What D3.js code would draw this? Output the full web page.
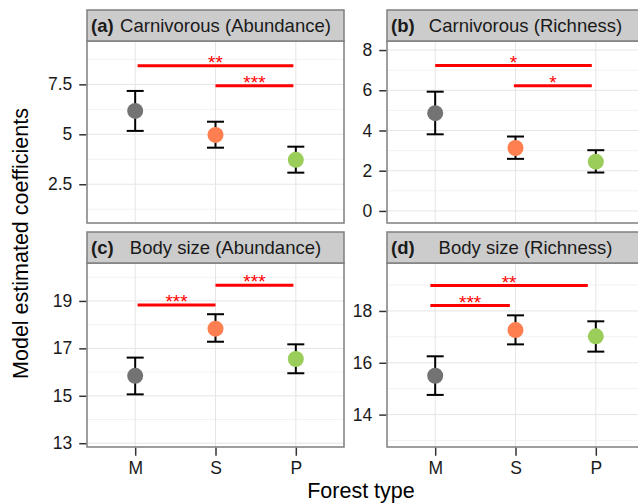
<!DOCTYPE html>
<html lang="en">
  <head>
    <meta charset="utf-8">
    <title>Forest type coefficients</title>
    <style>
      body { margin: 0; background: #fff; }
      svg { display: block; font-family: "Liberation Sans", Arial, Helvetica, sans-serif; }
    </style>
  </head>
  <body>
    <svg id="canvas"></svg>
    <script src="https://cdn.jsdelivr.net/npm/d3@7/dist/d3.min.js"></script>
    <script>

      const width = 638;
      const height = 504;

      // data
      const forestTypes = ["M", "S", "P"];
      const typeColors = ["#737373", "#ff7f50", "#9acd5a"];

      const panelTags = ["(a)", "(b)", "(c)", "(d)"];
      const panelTitles = ["Carnivorous (Abundance)", "Carnivorous (Richness)",
                           "Body size (Abundance)", "Body size (Richness)"];

      const estimates = [[6.17, 4.97, 3.72], [4.86, 3.13, 2.45], [15.84, 17.83, 16.55], [15.50, 17.26, 17.02]];
      const lowerCI   = [[5.17, 4.33, 3.08], [3.81, 2.59, 1.91], [15.06, 17.28, 15.95], [14.76, 16.71, 16.43]];
      const upperCI   = [[7.17, 5.63, 4.38], [5.93, 3.70, 3.02], [16.61, 18.44, 17.17], [16.25, 17.83, 17.60]];

      const yLimits = [[0.56, 9.67], [-0.6, 8.45], [12.84, 20.6], [12.75, 19.85]];
      const yTicks = [[2.5, 5, 7.5], [0, 2, 4, 6, 8], [13, 15, 17, 19], [14, 16, 18]];
      const yTickLabels = [["2.5", "5", "7.5"], ["0", "2", "4", "6", "8"], ["13", "15", "17", "19"], ["14", "16", "18"]];
      const yMinorTicks = [[1.25, 3.75, 6.25, 8.75], [1, 3, 5, 7], [14, 16, 18, 20], [13, 15, 17, 19]];

      // significance bars: [from, to, value, stars]  (from/to in category units, 1 = M)
      const sigBars = [
        [[1.03, 2.97, 8.43, "**"], [2.0, 2.97, 7.43, "***"]],
        [[1.0, 2.95, 7.23, "*"], [1.98, 2.95, 6.22, "*"]],
        [[1.03, 2.0, 18.83, "***"], [2.0, 2.97, 19.66, "***"]],
        [[0.94, 2.9, 18.98, "**"], [0.94, 1.93, 18.21, "***"]]
      ];

      // layout
      const panelLeft = [87, 387];
      const panelWidth = 257;
      const stripTop = [10, 232];
      const stripHeight = 31;
      const plotBottom = [223, 447];
      const border = "#7f7f7f";

      const svg = d3.select("#canvas")
        .attr("width", width)
        .attr("height", height)
        .attr("viewBox", [0, 0, width, height]);

      panelTitles.forEach((title, i) => {
        let col = i % 2;
        let row = Math.floor(i / 2);
        let left = panelLeft[col];
        let right = left + panelWidth;
        let top = stripTop[row] + stripHeight;
        let bottom = plotBottom[row];

        let x = d3.scalePoint()
          .domain(forestTypes)
          .range([left, right])
          .padding(0.6);
        // category units -> pixels, for the bars between categories
        let xu = v => x(forestTypes[0]) + (v - 1) * x.step();

        let y = d3.scaleLinear()
          .domain(yLimits[i])
          .range([bottom, top]);

        let g = svg.append("g");

        // panel background
        g.append("rect")
          .attr("x", left).attr("y", top)
          .attr("width", panelWidth).attr("height", bottom - top)
          .attr("fill", "#fff");

        // minor grid
        g.selectAll(".minor")
          .data(yMinorTicks[i])
          .join("line")
          .attr("x1", left).attr("x2", right)
          .attr("y1", d => y(d)).attr("y2", d => y(d))
          .attr("stroke", "#f2f2f2")
          .attr("stroke-width", 1);

        // major grid
        g.selectAll(".major")
          .data(yTicks[i])
          .join("line")
          .attr("x1", left).attr("x2", right)
          .attr("y1", d => y(d)).attr("y2", d => y(d))
          .attr("stroke", "#e5e5e5")
          .attr("stroke-width", 1);

        g.selectAll(".vgrid")
          .data(forestTypes)
          .join("line")
          .attr("x1", d => x(d)).attr("x2", d => x(d))
          .attr("y1", top).attr("y2", bottom)
          .attr("stroke", "#e5e5e5")
          .attr("stroke-width", 1);

        // significance bars
        sigBars[i].forEach(b => {
          g.append("line")
            .attr("x1", xu(b[0])).attr("x2", xu(b[1]))
            .attr("y1", y(b[2])).attr("y2", y(b[2]))
            .attr("stroke", "#ff0000")
            .attr("stroke-width", 3);
          g.append("text")
            .attr("x", (xu(b[0]) + xu(b[1])) / 2)
            .attr("y", y(b[2]) + 3)
            .attr("text-anchor", "middle")
            .attr("font-size", 19)
            .attr("fill", "#ff0000")
            .text(b[3]);
        });

        // error bars
        forestTypes.forEach((t, j) => {
          let cx = x(t);
          g.append("line")
            .attr("x1", cx).attr("x2", cx)
            .attr("y1", y(lowerCI[i][j])).attr("y2", y(upperCI[i][j]))
            .attr("stroke", "#000").attr("stroke-width", 2);
          [lowerCI[i][j], upperCI[i][j]].forEach(v => {
            g.append("line")
              .attr("x1", cx - 8.5).attr("x2", cx + 8.5)
              .attr("y1", y(v)).attr("y2", y(v))
              .attr("stroke", "#000").attr("stroke-width", 2);
          });
        });

        // points
        g.selectAll(".pt")
          .data(forestTypes)
          .join("circle")
          .attr("cx", d => x(d))
          .attr("cy", (d, j) => y(estimates[i][j]))
          .attr("r", 8)
          .attr("fill", (d, j) => typeColors[j]);

        // panel border
        g.append("rect")
          .attr("x", left).attr("y", top)
          .attr("width", panelWidth).attr("height", bottom - top)
          .attr("fill", "none")
          .attr("stroke", border)
          .attr("stroke-width", 1.5);

        // strip
        g.append("rect")
          .attr("x", left).attr("y", stripTop[row])
          .attr("width", panelWidth).attr("height", stripHeight)
          .attr("fill", "#cccccc")
          .attr("stroke", border)
          .attr("stroke-width", 1.5);

        g.append("text")
          .attr("x", left + 4)
          .attr("y", stripTop[row] + 22)
          .attr("font-size", 18.5)
          .attr("font-weight", "bold")
          .attr("fill", "#1a1a1a")
          .text(panelTags[i]);

        g.append("text")
          .attr("x", (left + right) / 2 + 10)
          .attr("y", stripTop[row] + 22)
          .attr("text-anchor", "middle")
          .attr("font-size", 18.5)
          .attr("fill", "#1a1a1a")
          .text(title);

        // y axis
        let yAxis = d3.axisLeft(y)
          .tickValues(yTicks[i])
          .tickFormat((d, k) => yTickLabels[i][k])
          .tickSize(7)
          .tickPadding(7);

        svg.append("g")
          .attr("transform", `translate(${left - 0.75},0)`)
          .call(yAxis)
          .call(a => a.select(".domain").remove())
          .call(a => a.selectAll(".tick line").attr("stroke", "#333").attr("stroke-width", 1.5))
          .call(a => a.selectAll(".tick text")
            .attr("font-size", 17.5)
            .attr("font-family", "Liberation Sans, Arial, sans-serif")
            .attr("fill", "#1a1a1a"));

        // x axis only on bottom row
        if (row === 1) {
          let xAxis = d3.axisBottom(x)
            .tickSize(8)
            .tickPadding(6);
          svg.append("g")
            .attr("transform", `translate(0,${bottom + 0.75})`)
            .call(xAxis)
            .call(a => a.select(".domain").remove())
            .call(a => a.selectAll(".tick line").attr("stroke", "#333").attr("stroke-width", 1.5))
            .call(a => a.selectAll(".tick text")
              .attr("font-size", 17.5)
              .attr("font-family", "Liberation Sans, Arial, sans-serif")
              .attr("fill", "#1a1a1a"));
        }
      });

      // axis titles
      svg.append("text")
        .attr("transform", "translate(28,243.5) rotate(-90)")
        .attr("text-anchor", "middle")
        .attr("font-size", 21.5)
        .attr("fill", "#000")
        .text("Model estimated coefficients");

      svg.append("text")
        .attr("x", 361)
        .attr("y", 498)
        .attr("text-anchor", "middle")
        .attr("font-size", 21.5)
        .attr("fill", "#000")
        .text("Forest type");

    </script>
  </body>
</html>
